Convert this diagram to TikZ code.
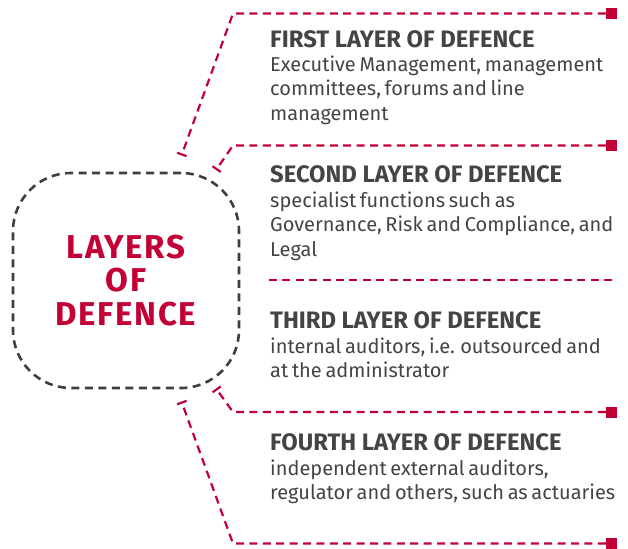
\documentclass[tikz,border=0pt]{standalone}
\usepackage{fontspec}
\setmainfont{Fira Sans}
\newfontfamily\bodyfont{Fira Sans}[WordSpace=0.7]
\usetikzlibrary{arrows.meta}
\definecolor{defRed}{HTML}{C20036}
\definecolor{hubGrey}{HTML}{3E3E3E}
\definecolor{txtGrey}{HTML}{444444}

\begin{document}
\begin{tikzpicture}[x=1pt, y=-1pt]
\useasboundingbox (0,0) rectangle (628,548);

\tikzset{
  hub/.style={draw=hubGrey, line width=2.6pt, dash pattern=on 8pt off 5.5pt,
              rounded corners=58pt, minimum width=226pt, minimum height=215pt,
              inner sep=0pt, align=center, text=defRed,
              font=\fontsize{33}{33.5}\selectfont\bfseries\addfontfeature{LetterSpace=5}},
  link/.style={defRed, line width=2.2pt, dash pattern=on 8pt off 5.4pt,
               -{Bar[width=10pt, line width=2.2pt]}},
  sepline/.style={defRed, line width=2.2pt, dash pattern=on 8pt off 5.4pt},
  endsq/.style={fill=defRed, minimum size=11pt, inner sep=0pt},
  layhead/.style={anchor=base west, inner sep=0pt, text=txtGrey,
                  font=\fontsize{23.8}{24.5}\selectfont\bfseries},
  laytext/.style={anchor=base west, inner sep=0pt, align=left, text=txtGrey,
                  font=\bodyfont\fontsize{20}{24.5}\selectfont},
}

% hub
\node[hub] (hub) at (126,280.5) {LAYERS\\OF\\DEFENCE};

% end squares and bends
\node[endsq] (sq1) at (611.5,13.5) {};
\node[endsq] (sq2) at (611.5,145.5) {};
\node[endsq] (sq3) at (611.5,412) {};
\node[endsq] (sq4) at (611.5,543.5) {};
\coordinate (c1) at (233,13.5);
\coordinate (c2) at (233,145.5);
\coordinate (c3) at (233,412);
\coordinate (c4) at (233,543.5);
\coordinate (e1) at (181.5,155.5);
\coordinate (e2) at (216,170);
\coordinate (e3) at (216,388.5);
\coordinate (e4) at (181.5,401.5);
\coordinate (sepL) at (269,280);
\coordinate (sepR) at (617,280);

\draw[link] (sq1.west) -- (c1) -- (e1);
\draw[link] (sq2.west) -- (c2) -- (e2);
\draw[link] (sq3.west) -- (c3) -- (e3);
\draw[link] (sq4.west) -- (c4) -- (e4);
\draw[sepline] (sepL) -- (sepR);

% layers (body nodes sit on their last line)
\node[layhead] (head1) at (270,47.3) {FIRST LAYER OF DEFENCE};
\node[laytext] (text1) at (270,120.5) {Executive Management, management\\committees, forums and line\\management};

\node[layhead] (head2) at (270,182.7) {SECOND LAYER OF DEFENCE};
\node[laytext] (text2) at (270,256) {specialist functions such as\\Governance, Risk and Compliance, and\\Legal};

\node[layhead] (head3) at (270,328.5) {THIRD LAYER OF DEFENCE};
\node[laytext] (text3) at (270,377.5) {internal auditors, i.e. outsourced and\\at the administrator};

\node[layhead] (head4) at (270,450) {FOURTH LAYER OF DEFENCE};
\node[laytext] (text4) at (270,499.5) {independent external auditors,\\regulator and others, such as actuaries};

\end{tikzpicture}
\end{document}
